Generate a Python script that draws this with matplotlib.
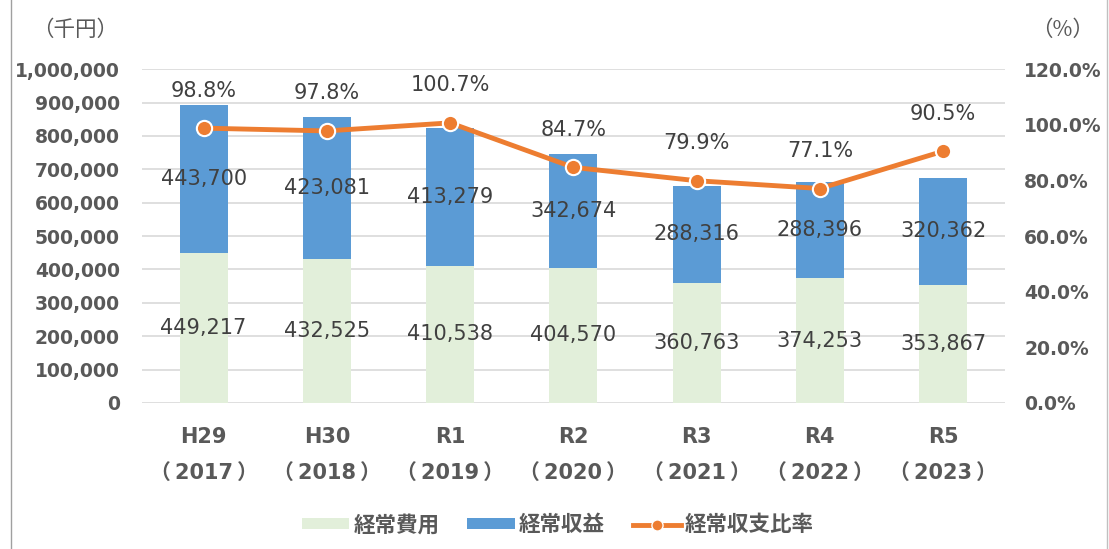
import matplotlib
matplotlib.use("Agg")
import matplotlib.pyplot as plt
from matplotlib.lines import Line2D
from matplotlib.patches import Patch
import numpy as np

plt.rcParams['font.family'] = ['DejaVu Sans', 'Noto Sans CJK JP']

categories = ["H29\n（\u20092017\u2009）", "H30\n（\u20092018\u2009）", "R1\n（\u20092019\u2009）",
              "R2\n（\u20092020\u2009）", "R3\n（\u20092021\u2009）", "R4\n（\u20092022\u2009）",
              "R5\n（\u20092023\u2009）"]
expense = [449217, 432525, 410538, 404570, 360763, 374253, 353867]
revenue = [443700, 423081, 413279, 342674, 288316, 288396, 320362]
ratio = [98.8, 97.8, 100.7, 84.7, 79.9, 77.1, 90.5]

GREEN = "#E2EFDA"
BLUE = "#5B9BD5"
ORANGE = "#ED7D31"
TXT = "#404040"
TICK = "#595959"
CJK = ['Noto Sans CJK JP', 'DejaVu Sans']

fig = plt.figure(figsize=(11.09, 5.49), dpi=100)
ax = fig.add_axes([0.128, 0.266, 0.778, 0.608])
ax2 = ax.twinx()

x = np.arange(len(categories))
b1 = ax.bar(x, expense, width=0.39, color=GREEN, zorder=2, label="経常費用")
b2 = ax.bar(x, revenue, width=0.39, bottom=expense, color=BLUE, zorder=2, label="経常収益")
ax.bar_label(b1, labels=[f"{v:,}" for v in expense], label_type='center',
             fontsize=15, color=TXT)
ax.bar_label(b2, labels=[f"{v:,}" for v in revenue], label_type='center',
             fontsize=15, color=TXT)

ax.set_ylim(0, 1000000)
ax.set_xlim(-0.5, len(categories) - 0.5)
ax.set_yticks(np.arange(0, 1000001, 100000))
ax.set_yticklabels([f"{v:,}" for v in range(0, 1000001, 100000)])
ax.grid(axis='y', color="#D9D9D9", linewidth=1.2, zorder=0)
ax.set_axisbelow(True)
ax.set_xticks(x)
ax.set_xticklabels(categories, linespacing=2.05)
ax.tick_params(axis='y', length=0, pad=16, labelsize=13.5, labelcolor=TICK)
ax.tick_params(axis='x', length=0, pad=17, labelsize=15, labelcolor=TICK)
for lbl in ax.get_yticklabels() + ax.get_xticklabels():
    lbl.set_fontweight('bold')
for s in ax.spines.values():
    s.set_visible(False)

r = np.array(ratio) / 100.0
ax2.plot(x, r, color=ORANGE, linewidth=3.5, marker='o', markersize=11,
         markerfacecolor=ORANGE, markeredgecolor='white', markeredgewidth=1.5,
         zorder=5, label="経常収支比率")
for xi, ri, v in zip(x, r, ratio):
    ax2.annotate(f"{v:.1f}%", (xi, ri), xytext=(0, 27), textcoords='offset points',
                 ha='center', va='center', fontsize=15, color=TXT)
ax2.set_ylim(0, 1.2)
ax2.set_yticks(np.arange(0, 1.21, 0.2))
ax2.set_yticklabels([f"{v*100:.1f}%" for v in np.arange(0, 1.21, 0.2)])
ax2.tick_params(axis='y', length=0, pad=14, labelsize=13.5, labelcolor=TICK)
for lbl in ax2.get_yticklabels():
    lbl.set_fontweight('bold')
for s in ax2.spines.values():
    s.set_visible(False)

fig.text(0.068, 0.945, "（千円）", fontsize=15.5, color=TICK, ha='center', va='center', family=CJK)
fig.text(0.958, 0.945, "（%）", fontsize=15.5, color=TICK, ha='center', va='center', family=CJK)

handles = [Patch(facecolor=GREEN, label="経常費用"),
           Patch(facecolor=BLUE, label="経常収益"),
           Line2D([0], [0], color=ORANGE, linewidth=3.5, marker='o', markersize=8,
                  markerfacecolor=ORANGE, markeredgecolor='white', label="経常収支比率")]
leg = fig.legend(handles=handles, loc='center', bbox_to_anchor=(0.503, 0.044), ncol=3,
                 frameon=False, prop={'family': CJK, 'size': 15.5, 'weight': 'bold'},
                 handlelength=2.2, handleheight=0.45,
                 columnspacing=1.3, handletextpad=0.2)
for t in leg.get_texts():
    t.set_color(TICK)

fig.add_artist(Line2D([0.0095, 0.0095], [0, 1], transform=fig.transFigure, color="#A0A0A0", linewidth=1))
fig.add_artist(Line2D([0.9985, 0.9985], [0, 1], transform=fig.transFigure, color="#C0C0C0", linewidth=1))

fig.savefig("out.png", dpi=100)
